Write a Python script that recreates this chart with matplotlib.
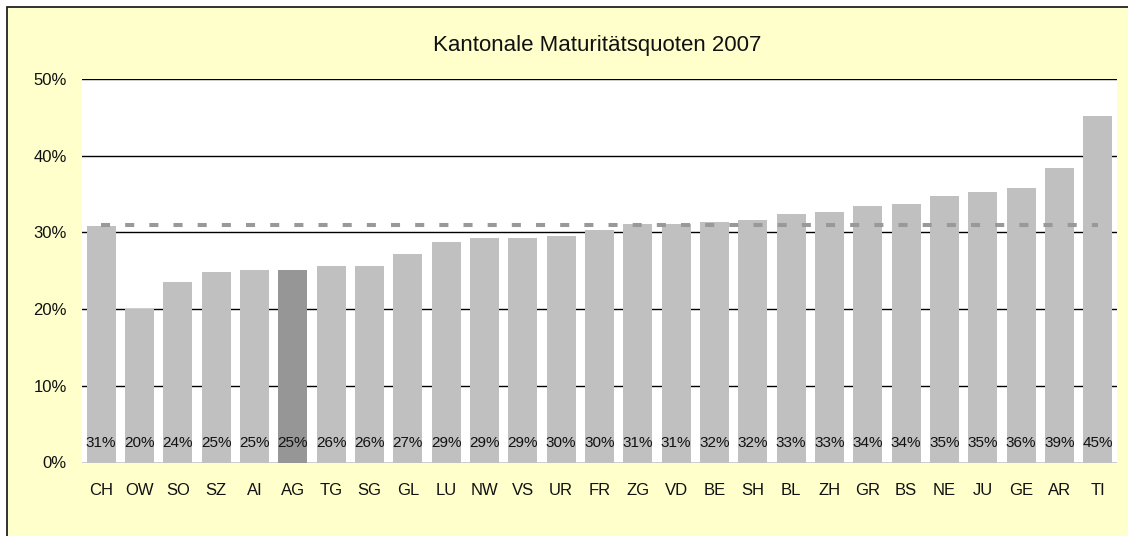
import matplotlib
matplotlib.use("Agg")
import matplotlib.pyplot as plt
from matplotlib.patches import Rectangle
from matplotlib.ticker import FuncFormatter

plt.rcParams['font.family'] = ['Liberation Sans', 'DejaVu Sans']

# Kantone, sortiert nach Maturitätsquote (CH = Schweizer Durchschnitt)
kantone = ["CH", "OW", "SO", "SZ", "AI", "AG", "TG", "SG", "GL", "LU", "NW", "VS", "UR", "FR",
           "ZG", "VD", "BE", "SH", "BL", "ZH", "GR", "BS", "NE", "JU", "GE", "AR", "TI"]
quoten = [30.8, 20.0, 23.5, 24.8, 25.1, 25.1, 25.6, 25.6, 27.2, 28.7, 29.3, 29.3, 29.5, 30.3,
          31.1, 31.1, 31.4, 31.6, 32.4, 32.7, 33.4, 33.7, 34.7, 35.3, 35.8, 38.4, 45.2]
# Beschriftungen wie im Original (gerundet)
etiketten = [31, 20, 24, 25, 25, 25, 26, 26, 27, 29, 29, 29, 30, 30,
             31, 31, 32, 32, 33, 33, 34, 34, 35, 35, 36, 39, 45]
mittel_ch = 31.0
hervorgehoben = "AG"

W, H = 1128, 536
fig = plt.figure(figsize=(W / 100, H / 100), dpi=100, facecolor="white")

# gelber Diagrammhintergrund mit Rahmen
fig.patches.append(Rectangle((7 / W, -0.1), 1.2, (H - 7) / H + 0.1,
                             transform=fig.transFigure, facecolor="#FFFFCC",
                             edgecolor="#222222", linewidth=1.3, zorder=-10))

ax = fig.add_axes([82 / W, 1 - 462.5 / H, (1117 - 82) / W, (462.5 - 79) / H])
ax.set_facecolor("white")

x = list(range(len(kantone)))
farben = ["#969696" if k == hervorgehoben else "#C0C0C0" for k in kantone]
ax.bar(x, quoten, width=0.76, color=farben, zorder=2)

# Durchschnittslinie CH
ax.plot(x, [mittel_ch] * len(x), color="#999999", linewidth=2.9,
        linestyle=(0, (2.25, 3.75)), dash_capstyle="butt", zorder=3)

for xi, lab in zip(x, etiketten):
    ax.text(xi, 2.6, f"{lab}%", ha="center", va="center", fontsize=11,
            color="#111111", zorder=4)

ax.set_xlim(-0.5, len(kantone) - 0.5)
ax.set_ylim(0, 50)
ax.set_yticks([0, 10, 20, 30, 40, 50])
ax.yaxis.set_major_formatter(FuncFormatter(lambda v, p: f"{v:.0f}%"))
ax.set_xticks(x)
ax.set_xticklabels(kantone)
ax.tick_params(axis="both", length=0, labelsize=12, colors="#111111")
ax.tick_params(axis="y", pad=11)
ax.tick_params(axis="x", pad=15)

ax.yaxis.grid(True, color="black", linewidth=1)
ax.set_axisbelow(True)
for s in ax.spines.values():
    s.set_visible(False)

fig.text(597 / W, 1 - 46 / H, "Kantonale Maturitätsquoten 2007", ha="center",
         va="center", fontsize=16, color="#111111")

fig.savefig("out.png", dpi=100, facecolor=fig.get_facecolor())
